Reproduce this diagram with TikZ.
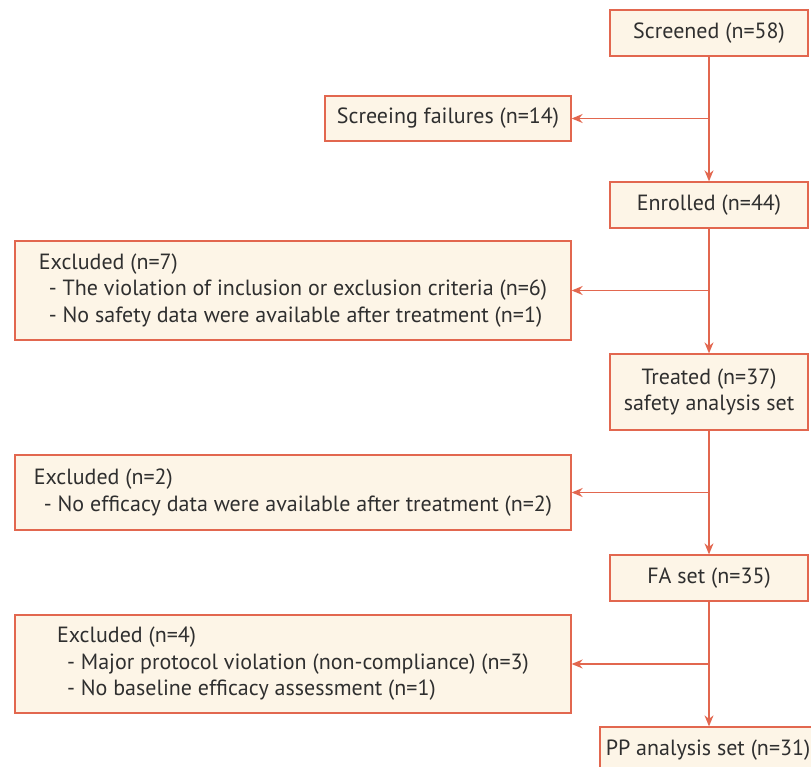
\documentclass[tikz,border=0pt]{standalone}
\usepackage{fontspec}
\setmainfont{PT Sans}
\usetikzlibrary{arrows.meta}
\definecolor{boxline}{HTML}{E2674F}
\definecolor{boxfill}{HTML}{FDF5E7}
\definecolor{boxtext}{HTML}{2F2F2F}
\tikzset{
  box/.style={draw=boxline, fill=boxfill, line width=1.3pt, inner sep=0pt,
    text=boxtext, font=\fontsize{22}{26.5}\selectfont},
  stage/.style={box, minimum width=198, minimum height=46, align=center},
  drop/.style={box, minimum width=556, align=left},
  flow/.style={draw=boxline, line width=1.3pt, -{Stealth[length=11pt, width=9pt]}}
}
\newcommand{\sub}{\hspace*{10pt}- }
\begin{document}
\begin{tikzpicture}[x=1pt, y=-1pt]
  \useasboundingbox (0,0) rectangle (811,767);
  \clip (0,0) rectangle (811,767);

  \node[stage] (s1) at (709, 33) {Screened (n=58)};

  \node[box, minimum width=246, minimum height=45] (f1) at (448, 118.5) {Screeing failures (n=14)};

  \node[stage] (s2) at (709, 205) {Enrolled (n=44)};

  \node[drop, minimum height=99] (x1) at (293, 290.5)
    {Excluded (n=7)\\ \sub The violation of inclusion or exclusion criteria (n=6)\\ \sub No safety data were available after treatment (n=1)};

  \node[stage, minimum height=76] (s3) at (709, 392) {Treated (n=37)\\ safety analysis set};

  \node[drop, minimum height=75] (x2) at (293, 492.5)
    {Excluded (n=2)\\ \sub No efficacy data were available after treatment (n=2)};

  \node[stage] (s4) at (709, 578) {FA set (n=35)};

  \node[drop, minimum height=98] (x3) at (293, 664)
    {Excluded (n=4)\\ \sub Major protocol violation (non-compliance) (n=3)\\ \sub No baseline efficacy assessment (n=1)};

  \node[stage, minimum width=216] (s5) at (708, 750) {PP analysis set (n=31)};

  % main line
  \draw[flow] (s1) -- (s2);
  \draw[flow] (s2) -- (s3);
  \draw[flow] (s3) -- (s4);
  \draw[flow] (s4) -- (s5.north -| s4);

  % side branches
  \coordinate (b1) at (s1 |- f1);
  \draw[flow] (b1) -- (f1);
  \coordinate (b2) at (s1 |- x1);
  \draw[flow] (b2) -- (x1);
  \coordinate (b3) at (s1 |- x2);
  \draw[flow] (b3) -- (x2);
  \coordinate (b4) at (s1 |- x3);
  \draw[flow] (b4) -- (x3);
\end{tikzpicture}
\end{document}
